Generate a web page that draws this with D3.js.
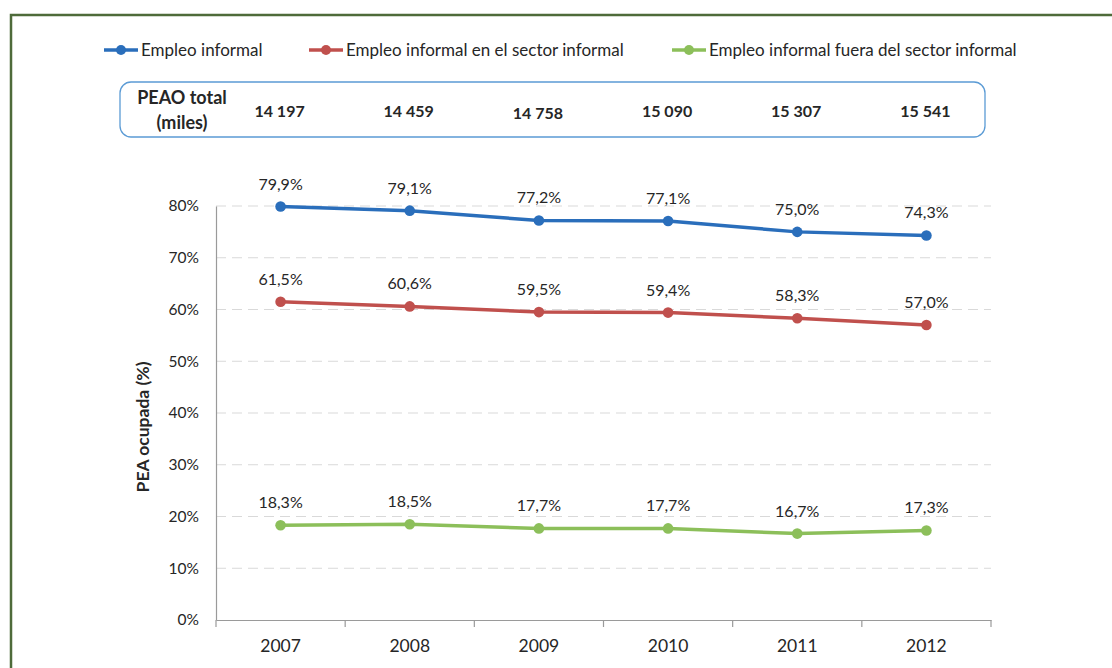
<!DOCTYPE html>
<html>
<head>
<meta charset="utf-8">
<script src="https://cdn.jsdelivr.net/npm/d3@7"></script>
<style>
  html, body { margin: 0; padding: 0; background: #fff; }
  svg { display: block; font-family: Lato, "Open Sans", "Noto Sans", sans-serif; }
</style>
</head>
<body>
<svg id="chart" width="1112" height="668"></svg>
<script>
// Years on the horizontal axis
const years = ["2007", "2008", "2009", "2010", "2011", "2012"];
// Employed economically active population (thousands)
const peaoTotal = ["14 197", "14 459", "14 758", "15 090", "15 307", "15 541"];
// Shares of the employed population (%)
const empleoInformal = [79.9, 79.1, 77.2, 77.1, 75.0, 74.3];
const empleoSectorInformal = [61.5, 60.6, 59.5, 59.4, 58.3, 57.0];
const empleoFueraSector = [18.3, 18.5, 17.7, 17.7, 16.7, 17.3];
const seriesNames = [
  "Empleo informal",
  "Empleo informal en el sector informal",
  "Empleo informal fuera del sector informal"
];
const yTicks = [0, 10, 20, 30, 40, 50, 60, 70, 80];

const series = [
  { name: seriesNames[0], values: empleoInformal, color: "#2a6ebb" },
  { name: seriesNames[1], values: empleoSectorInformal, color: "#c0504d" },
  { name: seriesNames[2], values: empleoFueraSector, color: "#8cbf5a" }
];

const svg = d3.select("#chart");
const textColor = "#262626";
const fmt = v => d3.format(".1f")(v).replace(".", ",") + "%";

// Outer frame
svg.append("rect")
  .attr("x", 11).attr("y", 15)
  .attr("width", 1120).attr("height", 680)
  .attr("fill", "none").attr("stroke", "#4e6b3a").attr("stroke-width", 2.5);

// Plot geometry
const plotLeft = 216, plotRight = 991, plotTop = 206, plotBottom = 620;
const x = d3.scaleBand().domain(years).range([plotLeft, plotRight]);
const y = d3.scaleLinear().domain([0, 80]).range([plotBottom, plotTop]);

// Gridlines
svg.append("g")
  .selectAll("line")
  .data(yTicks.filter(d => d > 0))
  .join("line")
  .attr("x1", plotLeft).attr("x2", plotRight)
  .attr("y1", d => y(d)).attr("y2", d => y(d))
  .attr("stroke", "#d9d9d9").attr("stroke-width", 1.2)
  .attr("stroke-dasharray", "10,6");

// Y axis
const yAxis = svg.append("g")
  .attr("transform", `translate(${plotLeft},0)`)
  .call(d3.axisLeft(y).tickValues(yTicks).tickSize(0).tickPadding(17).tickFormat(d => d + "%"));
yAxis.select(".domain").attr("stroke", "#9a9a9a").attr("stroke-width", 1.2);
yAxis.selectAll("text").attr("font-size", 15.5).attr("fill", textColor)
  .attr("font-family", "Lato, 'Open Sans', sans-serif");

// X axis with ticks between categories
const xAxis = svg.append("g")
  .attr("transform", `translate(0,${plotBottom})`)
  .call(d3.axisBottom(x).tickSize(0).tickPadding(20));
xAxis.select(".domain").attr("stroke", "#9a9a9a").attr("stroke-width", 1.2);
xAxis.selectAll("text").attr("font-size", 17.5).attr("fill", textColor)
  .attr("font-family", "Lato, 'Open Sans', sans-serif");
const boundaries = years.map(d => x(d)).concat([x(years[years.length - 1]) + x.bandwidth()]);
svg.append("g").selectAll("line")
  .data(boundaries)
  .join("line")
  .attr("x1", d => d).attr("x2", d => d)
  .attr("y1", plotBottom).attr("y2", plotBottom + 7)
  .attr("stroke", "#9a9a9a").attr("stroke-width", 1.2);

// Y axis title
svg.append("text")
  .attr("transform", `translate(149,427) rotate(-90)`)
  .attr("text-anchor", "middle")
  .attr("font-size", 17.5).attr("font-weight", "bold").attr("fill", textColor)
  .text("PEA ocupada (%)");

// Lines, markers and value labels
const cx = d => x(d) + x.bandwidth() / 2;
const line = d3.line().x((d, i) => cx(years[i])).y(d => y(d));
series.forEach(s => {
  const g = svg.append("g");
  g.append("path")
    .attr("d", line(s.values))
    .attr("fill", "none").attr("stroke", s.color).attr("stroke-width", 3.5);
  g.selectAll("circle")
    .data(s.values)
    .join("circle")
    .attr("cx", (d, i) => cx(years[i])).attr("cy", d => y(d))
    .attr("r", 5.3).attr("fill", s.color);
  g.selectAll("text")
    .data(s.values)
    .join("text")
    .attr("x", (d, i) => cx(years[i])).attr("y", d => y(d) - 17)
    .attr("text-anchor", "middle")
    .attr("font-size", 16).attr("fill", textColor)
    .text(d => fmt(d));
});

// Legend
const legendX = [104, 309, 672];
series.forEach((s, i) => {
  const g = svg.append("g").attr("transform", `translate(${legendX[i]},50)`);
  g.append("line").attr("x1", 0).attr("x2", 34).attr("y1", 0).attr("y2", 0)
    .attr("stroke", s.color).attr("stroke-width", 3.5);
  g.append("circle").attr("cx", 17).attr("cy", 0).attr("r", 5).attr("fill", s.color);
  g.append("text").attr("x", 37).attr("y", 6)
    .attr("font-size", 17).attr("fill", textColor).text(s.name);
});

// Employed population table
svg.append("rect")
  .attr("x", 120).attr("y", 82).attr("width", 865).attr("height", 55)
  .attr("rx", 11).attr("ry", 11)
  .attr("fill", "#fff").attr("stroke", "#5b9bd5").attr("stroke-width", 1.3);
const head = svg.append("text")
  .attr("text-anchor", "middle")
  .attr("font-size", 18).attr("font-weight", "bold").attr("fill", textColor);
head.append("tspan").attr("x", 182).attr("y", 104).text("PEAO total");
head.append("tspan").attr("x", 182).attr("y", 129).text("(miles)");
svg.append("g").selectAll("text")
  .data(peaoTotal)
  .join("text")
  .attr("x", (d, i) => cx(years[i]) - 1)
  .attr("y", (d, i) => i === 2 ? 119 : 117)
  .attr("text-anchor", "middle")
  .attr("font-size", 16).attr("font-weight", "bold").attr("fill", textColor)
  .text(d => d);
</script>
</body>
</html>
